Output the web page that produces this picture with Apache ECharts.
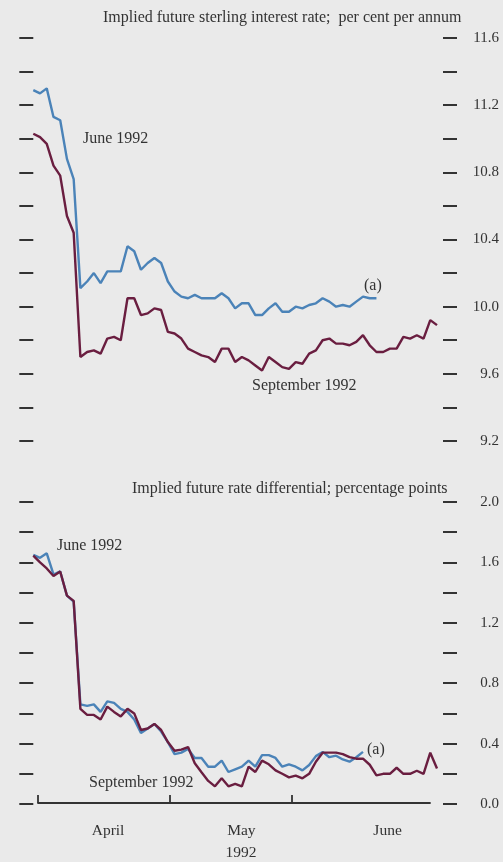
<!DOCTYPE html>
<html>
<head>
<meta charset="utf-8">
<script src="https://cdn.jsdelivr.net/npm/echarts@6/dist/echarts.min.js"></script>
<style>
  html, body { margin: 0; padding: 0; background: #eaeaea; }
  #chart { width: 503px; height: 862px; }
</style>
</head>
<body>
<div id="chart"></div>
<script>
// Implied future sterling interest rates (per cent per annum), daily, by contract
const rateJune = [11.29, 11.27, 11.30, 11.13, 11.11, 10.88, 10.76, 10.11, 10.15, 10.20,
  10.14, 10.21, 10.21, 10.21, 10.36, 10.33, 10.22, 10.26, 10.29, 10.26,
  10.15, 10.09, 10.06, 10.05, 10.07, 10.05, 10.05, 10.05, 10.08, 10.05,
  9.99, 10.02, 10.02, 9.95, 9.95, 9.99, 10.02, 9.97, 9.97, 10.00,
  9.99, 10.01, 10.02, 10.05, 10.03, 10.00, 10.01, 10.00, 10.03, 10.06,
  10.05, 10.05];
const rateSept = [11.03, 11.01, 10.97, 10.84, 10.78, 10.54, 10.44, 9.70, 9.73, 9.74,
  9.72, 9.81, 9.82, 9.80, 10.05, 10.05, 9.95, 9.96, 9.99, 9.98,
  9.85, 9.84, 9.81, 9.75, 9.73, 9.71, 9.70, 9.67, 9.75, 9.75,
  9.67, 9.70, 9.68, 9.65, 9.62, 9.70, 9.67, 9.64, 9.63, 9.67,
  9.66, 9.72, 9.74, 9.80, 9.81, 9.78, 9.78, 9.77, 9.79, 9.83,
  9.77, 9.73, 9.73, 9.75, 9.75, 9.82, 9.81, 9.83, 9.81, 9.92,
  9.89];

// Implied future rate differential (percentage points), same contracts
const diffJune = [1.65, 1.63, 1.66, 1.52, 1.54, 1.38, 1.34, 0.66, 0.65, 0.66,
  0.61, 0.68, 0.67, 0.63, 0.61, 0.56, 0.47, 0.50, 0.53, 0.48,
  0.41, 0.33, 0.34, 0.365, 0.305, 0.305, 0.247, 0.247, 0.287, 0.212,
  0.23, 0.247, 0.287, 0.247, 0.324, 0.324, 0.305, 0.247, 0.263, 0.247,
  0.223, 0.258, 0.317, 0.345, 0.31, 0.32, 0.295, 0.28, 0.31, 0.345];
const diffSept = [1.645, 1.60, 1.56, 1.51, 1.54, 1.38, 1.345, 0.63, 0.59, 0.59,
  0.56, 0.645, 0.61, 0.58, 0.63, 0.60, 0.49, 0.50, 0.53, 0.49,
  0.41, 0.353, 0.36, 0.377, 0.27, 0.21, 0.153, 0.117, 0.17, 0.117,
  0.134, 0.117, 0.247, 0.212, 0.287, 0.263, 0.223, 0.20, 0.176, 0.188,
  0.17, 0.20, 0.28, 0.34, 0.34, 0.34, 0.33, 0.31, 0.30, 0.30,
  0.26, 0.19, 0.20, 0.20, 0.24, 0.20, 0.20, 0.22, 0.20, 0.34,
  0.235];

// Axis labelling
const rateTickLabels = [9.2, 9.6, 10.0, 10.4, 10.8, 11.2, 11.6];
const diffTickLabels = [0.0, 0.4, 0.8, 1.2, 1.6, 2.0];
const monthNames = ['April', 'May', 'June'];
const monthBounds = [0.7, 20.3, 38.4];      // trading-day position of month starts
const monthLabelAt = [11.1, 30.9, 52.6];    // trading-day position of month names
const axisEnd = 58.9;
const yearLabel = '1992';

const SERIF = '"Liberation Serif", "DejaVu Serif", serif';
const INK = '#333333';
const BLUE = '#4b83b8';
const MAROON = '#6a1e40';

const pairs = arr => arr.map((v, i) => [i, v]);

function dashAxis(grid, pos, min, max, labels) {
  return {
    type: 'value', gridIndex: grid, position: pos,
    offset: pos === 'left' ? 3 : 6,
    min: min, max: max, interval: 0.2,
    axisLine: { show: false },
    splitLine: { show: false },
    axisTick: { show: true, length: 14, lineStyle: { color: INK, width: 2 } },
    axisLabel: labels ? {
      show: true, customValues: labels, align: 'right', margin: 56,
      fontFamily: SERIF, fontSize: 15, color: INK,
      formatter: v => v.toFixed(1)
    } : { show: false }
  };
}

const chart = echarts.init(document.getElementById('chart'), null, { renderer: 'canvas' });

const txt = (x, y, s, size) => ({
  type: 'text', x: x, y: y, silent: true,
  style: { text: s, fill: INK, font: (size || 16) + 'px ' + SERIF, align: 'left', verticalAlign: 'middle' }
});

chart.setOption({
  backgroundColor: '#eaeaea',
  animation: false,
  grid: [
    { left: 33.3, width: 403.7, top: 38, height: 403 },
    { left: 33.3, width: 403.7, top: 502, height: 302 },
    { left: 38, width: 392, top: 502, height: 302 }
  ],
  xAxis: [
    { type: 'value', gridIndex: 0, min: 0, max: 60, show: false },
    { type: 'value', gridIndex: 1, min: 0, max: 60, show: false },
    {
      type: 'value', gridIndex: 2, min: monthBounds[0], max: axisEnd,
      axisLine: { show: true, lineStyle: { color: INK, width: 1.8 } },
      axisTick: { show: true, inside: true, length: 8, customValues: monthBounds,
        lineStyle: { color: INK, width: 1.8 } },
      axisLabel: { show: true, customValues: monthLabelAt, margin: 20,
        fontFamily: SERIF, fontSize: 15.5, color: INK,
        formatter: v => monthNames[monthLabelAt.indexOf(v)] || '' },
      splitLine: { show: false },
      name: yearLabel, nameLocation: 'middle', nameGap: 42,
      nameTextStyle: { fontFamily: SERIF, fontSize: 15.5, color: INK, padding: [0, 0, 0, 14] }
    }
  ],
  yAxis: [
    dashAxis(0, 'left', 9.2, 11.6, null),
    dashAxis(0, 'right', 9.2, 11.6, rateTickLabels),
    dashAxis(1, 'left', 0, 2.0, null),
    dashAxis(1, 'right', 0, 2.0, diffTickLabels),
    { type: 'value', gridIndex: 2, min: 0, max: 2, show: false }
  ],
  series: [
    { name: 'June 1992', type: 'line', xAxisIndex: 0, yAxisIndex: 0, data: pairs(rateJune),
      showSymbol: false, lineStyle: { color: BLUE, width: 2.4 }, z: 3 },
    { name: 'September 1992', type: 'line', xAxisIndex: 0, yAxisIndex: 0, data: pairs(rateSept),
      showSymbol: false, lineStyle: { color: MAROON, width: 2.4 }, z: 2 },
    { name: 'June 1992', type: 'line', xAxisIndex: 1, yAxisIndex: 2, data: pairs(diffJune),
      showSymbol: false, lineStyle: { color: BLUE, width: 2.4 }, z: 2 },
    { name: 'September 1992', type: 'line', xAxisIndex: 1, yAxisIndex: 2, data: pairs(diffSept),
      showSymbol: false, lineStyle: { color: MAROON, width: 2.4 }, z: 3 }
  ],
  graphic: [
    txt(103, 18, 'Implied future sterling interest rate;  per cent per annum', 16),
    txt(83, 139, 'June 1992', 16),
    txt(252, 386, 'September 1992', 16),
    txt(364, 286, '(a)', 16),
    txt(132, 489, 'Implied future rate differential; percentage points', 16),
    txt(57, 546, 'June 1992', 16),
    txt(89, 783, 'September 1992', 16),
    txt(367, 750, '(a)', 16)
  ]
});
</script>
</body>
</html>
